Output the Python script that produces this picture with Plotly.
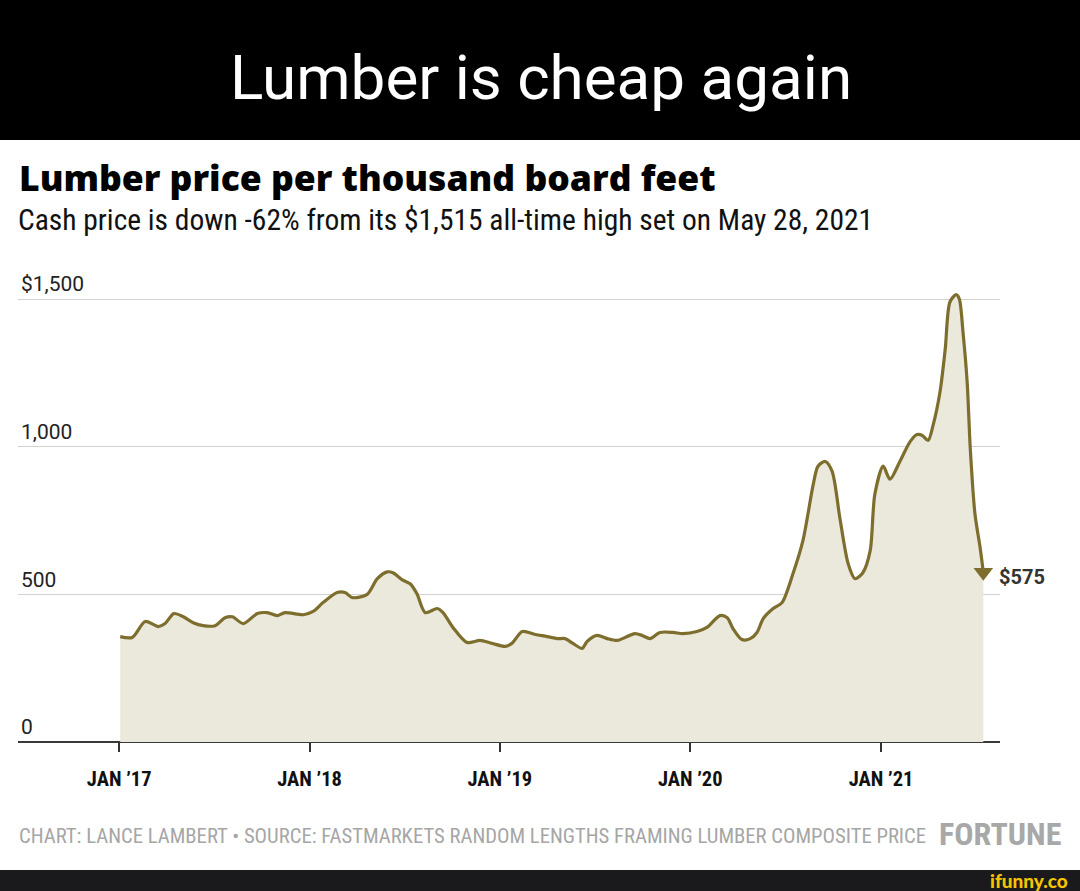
import plotly.graph_objects as go

# ---- data ----
dates = [
    "2017-01-03", "2017-01-26", "2017-02-20", "2017-03-17", "2017-03-30", "2017-04-16",
    "2017-05-04", "2017-05-23", "2017-06-11", "2017-07-04", "2017-07-23", "2017-08-06",
    "2017-08-27", "2017-09-23", "2017-10-12", "2017-10-31", "2017-11-15", "2017-12-20",
    "2018-01-08", "2018-01-27", "2018-02-23", "2018-03-10", "2018-03-24", "2018-04-21",
    "2018-05-11", "2018-05-30", "2018-06-10", "2018-06-28", "2018-07-13", "2018-07-26",
    "2018-08-11", "2018-09-03", "2018-09-14", "2018-10-03", "2018-10-30", "2018-11-24",
    "2018-12-17", "2019-01-11", "2019-01-24", "2019-02-13", "2019-03-10", "2019-04-02",
    "2019-04-21", "2019-05-06", "2019-05-21", "2019-06-08", "2019-06-17", "2019-07-06",
    "2019-07-26", "2019-08-14", "2019-09-02", "2019-09-17", "2019-10-01", "2019-10-16",
    "2019-11-04", "2019-11-29", "2019-12-18", "2020-01-14", "2020-02-02", "2020-02-27",
    "2020-03-12", "2020-03-23", "2020-04-09", "2020-04-25", "2020-05-08", "2020-05-20",
    "2020-06-08", "2020-06-25", "2020-07-16", "2020-08-04", "2020-08-24", "2020-09-02",
    "2020-09-16", "2020-09-29", "2020-10-14", "2020-10-30", "2020-11-12", "2020-11-27",
    "2020-12-11", "2020-12-20", "2021-01-05", "2021-01-18", "2021-02-06", "2021-02-26",
    "2021-03-11", "2021-03-21", "2021-04-01", "2021-04-11", "2021-04-24", "2021-05-04",
    "2021-05-13", "2021-05-25", "2021-05-31", "2021-06-07", "2021-06-15", "2021-06-21",
    "2021-06-30", "2021-07-10", "2021-07-16",
]
prices = [
    357, 354, 408, 391, 401, 435,
    424, 404, 394, 394, 421, 424,
    401, 435, 438, 428, 438, 431,
    442, 472, 506, 506, 489, 499,
    553, 576, 573, 549, 536, 502,
    438, 452, 438, 388, 337, 344,
    334, 324, 334, 374, 364, 357,
    350, 350, 334, 317, 340, 361,
    350, 344, 357, 367, 361, 350,
    371, 371, 367, 374, 388, 428,
    421, 384, 347, 350, 371, 418,
    452, 472, 570, 681, 873, 934,
    950, 917, 758, 603, 553, 573,
    647, 839, 934, 890, 950, 1018,
    1041, 1038, 1021, 1075, 1186, 1331,
    1490, 1515, 1500, 1389, 1220, 994,
    772, 657, 575,
]
x_tick_vals = ["2017-01-01", "2018-01-01", "2019-01-01", "2020-01-01", "2021-01-01"]
x_tick_text = ["JAN \u201917", "JAN \u201918", "JAN \u201919", "JAN \u201920", "JAN \u201921"]
y_tick_vals = [0, 500, 1000, 1500]
y_tick_text = ["0", "500", "1,000", "$1,500"]
end_label = "$575"

header = "Lumber is cheap again"
title = "Lumber price per thousand board feet"
subtitle = "Cash price is down -62% from its $1,515 all-time high set on May 28, 2021"
footer = "CHART: LANCE LAMBERT \u2022 SOURCE: FASTMARKETS RANDOM LENGTHS FRAMING LUMBER COMPOSITE PRICE"
brand = "FORTUNE"
watermark = "ifunny.co"

# ---- layout geometry ----
W, H = 1080, 891
L, R, T, B = 18, 80, 255, 149
PW, PH = W - L - R, H - T - B
PX_PER_DOLLAR = 0.2953


def px(x):
    return (x - L) / PW


def py(y):
    return (H - B - y) / PH


LINE = "#7e6e2e"
FILL = "#ebe8dc"
NARROW = "Liberation Sans Narrow, Roboto Condensed, Arial Narrow, sans-serif"

fig = go.Figure()
fig.add_trace(go.Scatter(
    x=dates, y=prices, mode="lines",
    line=dict(color=LINE, width=3.2, shape="spline", smoothing=0.8),
    fill="tozeroy", fillcolor=FILL, hoverinfo="skip", showlegend=False,
))
fig.add_trace(go.Scatter(
    x=[dates[-1]], y=[prices[-1]], mode="markers",
    marker=dict(symbol="triangle-down", size=17, color=LINE),
    hoverinfo="skip", showlegend=False,
))

fig.update_layout(
    width=W, height=H,
    margin=dict(l=L, r=R, t=T, b=B),
    paper_bgcolor="white", plot_bgcolor="white",
    showlegend=False,
    xaxis=dict(
        type="date",
        range=["2016-06-21", "2021-08-17"],
        tickvals=x_tick_vals, ticktext=x_tick_text,
        ticks="outside", ticklen=9, tickwidth=1.5, tickcolor="#333333",
        tickfont=dict(family=NARROW, size=20.5, color="#111111", weight="bold"),
        ticklabelstandoff=9,
        showgrid=False, zeroline=False,
        showline=False,
        fixedrange=True,
    ),
    yaxis=dict(
        range=[0, PH / PX_PER_DOLLAR],
        tickvals=y_tick_vals, ticktext=y_tick_text,
        ticklabelposition="inside", ticklabelshift=-15, ticklabelstandoff=0,
        tickfont=dict(family="Roboto, sans-serif", size=21, color="#222222"),
        ticks="",
        showgrid=True, gridcolor="#d2d2d2", gridwidth=1,
        zeroline=True, zerolinecolor="#3a3a3a", zerolinewidth=2.2,
        showline=False,
        fixedrange=True,
    ),
)

shapes = [
    dict(type="rect", xref="paper", yref="paper",
         x0=px(0), x1=px(W), y0=py(140), y1=py(0),
         fillcolor="black", line=dict(width=0), layer="above"),
    dict(type="rect", xref="paper", yref="paper",
         x0=px(0), x1=px(W), y0=py(H), y1=py(870),
         fillcolor="#1a1a1c", line=dict(width=0), layer="above"),
]
fig.update_layout(shapes=shapes)

ann = [
    dict(text=header, x=px(541), y=py(77), xanchor="center", yanchor="middle",
         font=dict(family="Roboto, sans-serif", size=62, color="white")),
    dict(text=title, x=px(17), y=py(177), xanchor="left", yanchor="middle",
         font=dict(family="Open Sans, sans-serif", size=35.5, color="#000000", weight=800)),
    dict(text=subtitle, x=px(16), y=py(220), xanchor="left", yanchor="middle",
         font=dict(family=NARROW, size=29.5, color="#111111")),
    dict(text=footer, x=px(17), y=py(836), xanchor="left", yanchor="middle",
         font=dict(family=NARROW, size=20.7, color="#a6a6a6")),
    dict(text=brand, x=px(1063), y=py(834), xanchor="right", yanchor="middle",
         font=dict(family=NARROW, size=32, color="#a8a8a8", weight="bold")),
    dict(text=watermark, x=px(1070), y=py(880), xanchor="right", yanchor="middle",
         font=dict(family="Lato, sans-serif", size=19, color="#f5c400", weight=900)),
    dict(text=end_label, x=dates[-1], y=prices[-1], xref="x", yref="y",
         xanchor="left", yanchor="middle", xshift=14, yshift=-5,
         font=dict(family="Roboto, sans-serif", size=20, color="#333333", weight="bold")),
]
for a in ann:
    a.setdefault("xref", "paper")
    a.setdefault("yref", "paper")
    a["showarrow"] = False
fig.update_layout(annotations=ann)

fig.write_html("out.html", config={"displayModeBar": False},
               post_script="document.body.style.margin='0';")
